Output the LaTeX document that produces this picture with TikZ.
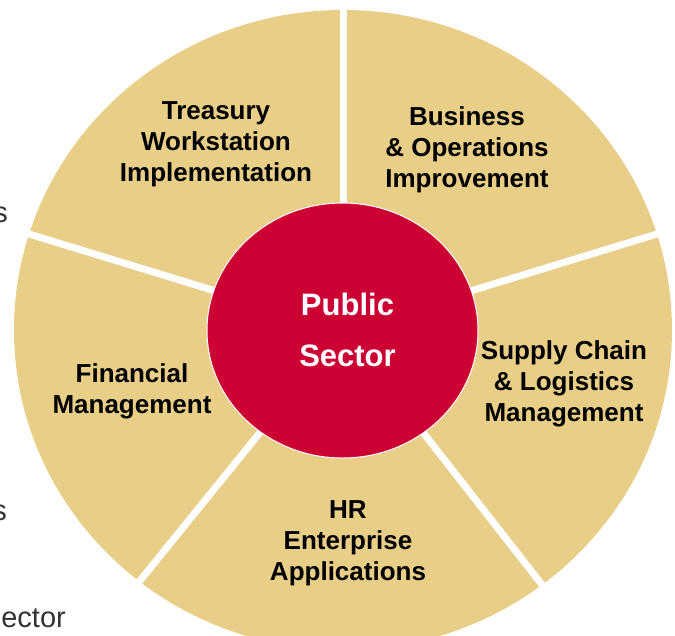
\documentclass[tikz,border=0pt]{standalone}
\usepackage{fontspec}
\setmainfont{Liberation Sans}
\usetikzlibrary{positioning,shapes.geometric}
\definecolor{sectortan}{RGB}{232,206,134}
\definecolor{publicred}{RGB}{204,0,51}
\definecolor{sidegray}{RGB}{51,51,51}

\begin{document}
\begin{tikzpicture}[x=1pt,y=1pt,
  seglabel/.style={align=center,font=\fontsize{26}{31}\selectfont\bfseries,text=black,inner sep=0pt},
  sidetext/.style={font=\fontsize{29}{34}\selectfont,text=sidegray,inner sep=0pt,anchor=base east}]
\clip (0,0) rectangle (675,-635);
\coordinate (hub) at (343,-330);
\fill[sectortan] (hub) ellipse [x radius=329,y radius=320];
% white gaps between the five segments
\foreach \ang/\nm in {90/gapa,17/gapb,-52/gapc,-129/gapd,163/gape}{
  \path (hub) ++(\ang:420) coordinate (\nm);
  \draw[white,line width=7pt] (hub) -- (\nm);
}
\node[ellipse,minimum width=271,minimum height=255,fill=publicred,draw=white,line width=1pt,inner sep=0pt] (core) at (342.5,-330.5) {};
\node[align=center,text=white,font=\fontsize{31}{51}\selectfont\bfseries,inner sep=0pt] (corelabel) at (347.5,-330) {Public\\Sector};
\node[seglabel] (treasury) at (216,-144) {Treasury\\Workstation\\Implementation};
\node[seglabel] (business) at (467,-150) {Business\\\& Operations\\Improvement};
\node[seglabel] (supply) at (564,-384) {Supply Chain\\\& Logistics\\Management};
\node[seglabel] (financial) at (132,-391) {Financial\\Management};
\node[seglabel] (hr) at (348,-543) {HR\\Enterprise\\Applications};
\node[sidetext] (sidea) at (8,-222) {s};
\node[sidetext] (sideb) at (7,-520) {s};
\node[sidetext] (sidec) at (66,-627) {ector};
\end{tikzpicture}
\end{document}
